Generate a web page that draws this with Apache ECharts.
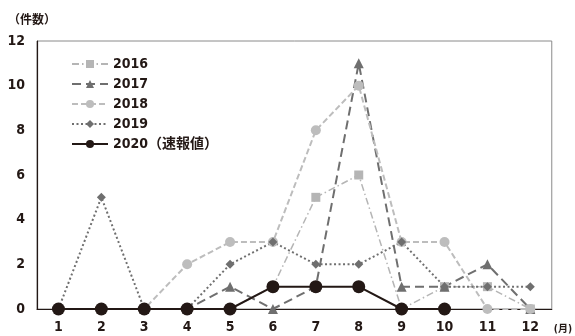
<!DOCTYPE html>
<html>
<head>
<meta charset="utf-8">
<script src="https://cdn.jsdelivr.net/npm/echarts@6/dist/echarts.min.js"></script>
<style>
  html, body { margin: 0; padding: 0; background: #fff; }
  #chart { width: 575px; height: 336px; }
</style>
</head>
<body>
<div id="chart"></div>
<script>
// Monthly case counts by year
const months = ['1', '2', '3', '4', '5', '6', '7', '8', '9', '10', '11', '12'];
const yTicks = [0, 2, 4, 6, 8, 10, 12];

const names = ['2016', '2017', '2018', '2019', '2020（速報値）'];
const v2016 = [0, 0, 0, 0, 0, 1, 5, 6, 0, 1, 1, 0];
const v2017 = [0, 0, 0, 0, 1, 0, 1, 11, 1, 1, 2, 0];
const v2018 = [0, 0, 0, 2, 3, 3, 8, 10, 3, 3, 0, 0];
const v2019 = [0, 5, 0, 0, 2, 3, 2, 2, 3, 1, 1, 1];
const v2020 = [0, 0, 0, 0, 0, 1, 1, 1, 0, 0];

const FONT = "'DejaVu Sans Condensed', 'Noto Sans CJK JP', sans-serif";

function series(name, data, color, symbol, size, dash, width) {
  return {
    name: name,
    type: 'line',
    data: data,
    symbol: symbol,
    symbolSize: size,
    showAllSymbol: true,
    itemStyle: { color: color },
    lineStyle: { color: color, width: width, type: dash },
    emphasis: { disabled: true },
    animation: false
  };
}

const chart = echarts.init(document.getElementById('chart'));
chart.setOption({
  animation: false,
  grid: {
    left: 37, right: 13, top: 41, bottom: 27,
    show: true, borderColor: '#8a8a8a', borderWidth: 1
  },
  legend: {
    orient: 'vertical',
    left: 66, top: 52,
    itemWidth: 36, itemHeight: 10, itemGap: 6,
    textStyle: { fontFamily: FONT, fontWeight: 'bold', fontSize: 14, color: '#231815' },
    data: names
  },
  xAxis: {
    type: 'category',
    data: months,
    boundaryGap: true,
    axisLine: { lineStyle: { color: '#231815', width: 1.2 } },
    axisTick: { show: false },
    axisLabel: { fontFamily: FONT, fontWeight: 'bold', fontSize: 14, color: '#231815', margin: 11 },
    name: '(月)',
    nameLocation: 'end',
    nameGap: 2,
    nameTextStyle: { fontFamily: FONT, fontWeight: 'bold', fontSize: 10, color: '#231815', verticalAlign: 'top', padding: [15, 0, 0, 0] }
  },
  yAxis: {
    type: 'value',
    min: yTicks[0], max: yTicks[yTicks.length - 1], interval: 2,
    axisLine: { show: true, lineStyle: { color: '#231815', width: 1.2 } },
    axisTick: { show: false },
    splitLine: { show: false },
    axisLabel: { fontFamily: FONT, fontWeight: 'bold', fontSize: 14, color: '#231815', margin: 12 },
    name: '（件数）',
    nameLocation: 'end',
    nameGap: 14,
    nameTextStyle: { fontFamily: FONT, fontWeight: 'bold', fontSize: 12, color: '#231815', align: 'center', padding: [0, 0, 0, -10] }
  },
  series: [
    series(names[0], v2016, '#b5b5b5', 'rect', 9, [7, 3, 1.5, 3], 1.5),
    series(names[1], v2017, '#6f6f6f', 'triangle', 10, [9, 5], 2),
    series(names[2], v2018, '#bdbdbd', 'circle', 10, [6, 3], 2),
    series(names[3], v2019, '#6f6f6f', 'diamond', 9, [2, 2.5], 2),
    series(names[4], v2020, '#231815', 'circle', 13, 'solid', 2)
  ]
});
</script>
</body>
</html>
